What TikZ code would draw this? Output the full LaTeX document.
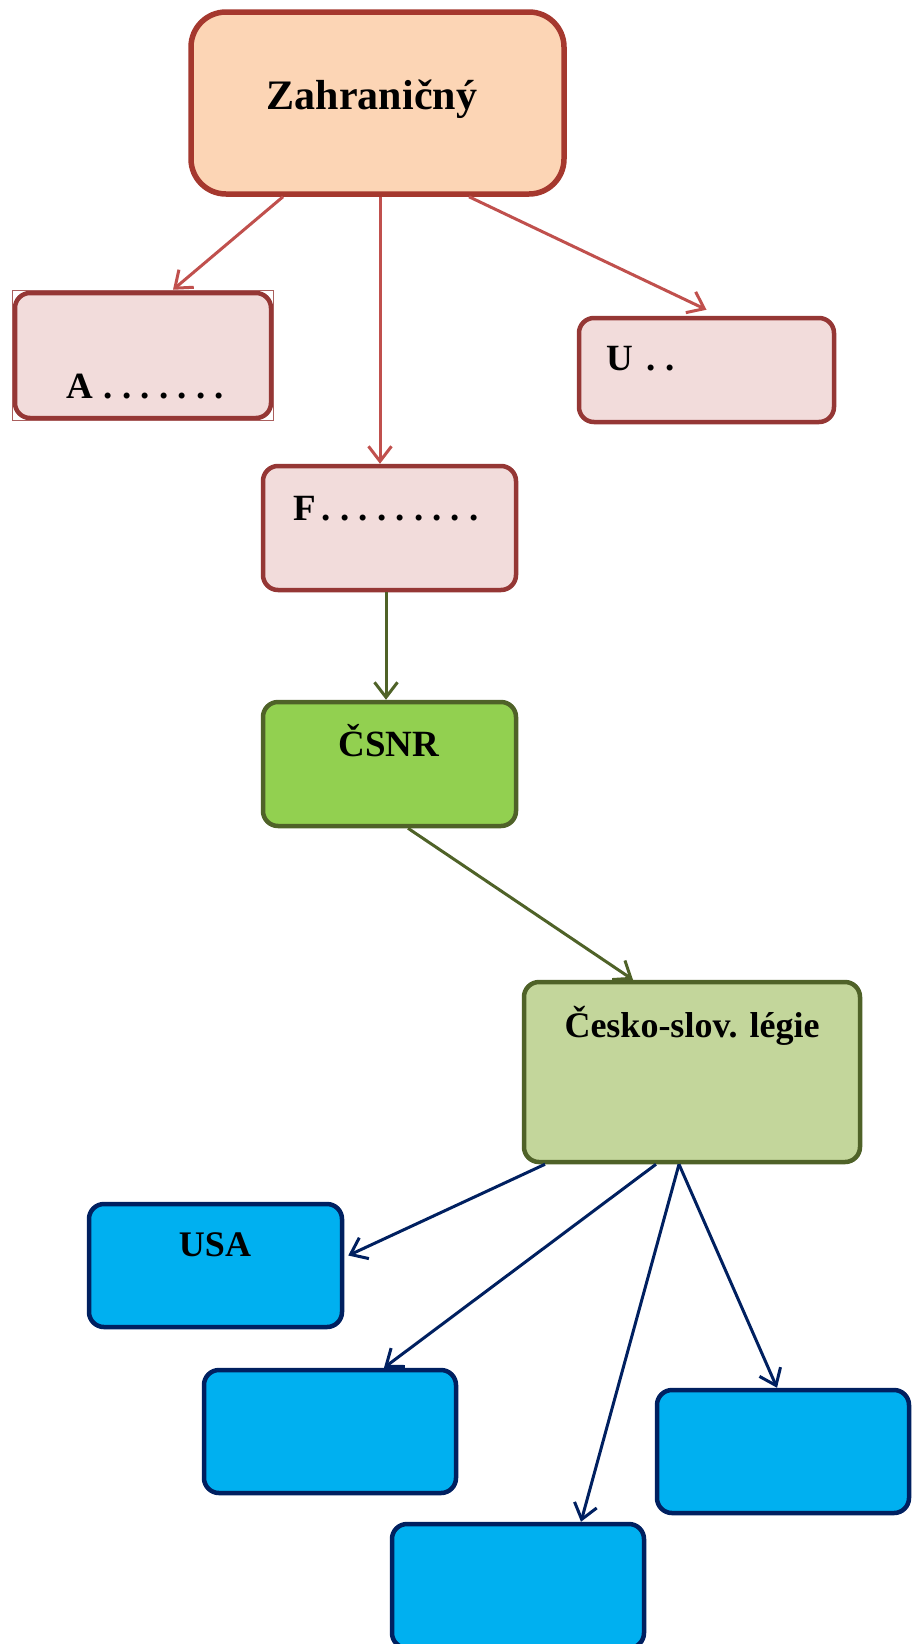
\documentclass[tikz,border=0pt]{standalone}
\usepackage{fontspec}
\setmainfont{Liberation Serif}
\usetikzlibrary{arrows.meta,calc,fit}
\definecolor{peachfill}{HTML}{FCD5B5}
\definecolor{peachline}{HTML}{A5382E}
\definecolor{pinkfill}{HTML}{F2DCDB}
\definecolor{pinkline}{HTML}{953735}
\definecolor{redarrow}{HTML}{C0504D}
\definecolor{greenfill}{HTML}{92D050}
\definecolor{olivefill}{HTML}{C3D69B}
\definecolor{greenline}{HTML}{4F6228}
\definecolor{bluefill}{HTML}{00B0F0}
\definecolor{blueline}{HTML}{002060}
\newcommand{\dd}{\kern9.2pt.}
\tikzset{
  box/.style={rectangle, rounded corners=15pt, line width=4.5pt, inner sep=0pt},
  pinkbox/.style={box, draw=pinkline, fill=pinkfill},
  bluebox/.style={box, draw=blueline, fill=bluefill},
  lbl/.style={font=\bfseries\fontsize{37}{40}\selectfont, inner sep=0pt},
  conn/.style={line width=3pt, -{Straight Barb[length=15pt,width=23pt,line width=3pt]}},
}
\begin{document}
\begin{tikzpicture}[x=1pt,y=-1pt]
\useasboundingbox (0,0) rectangle (915,1644);
% boxes
\node[box, rounded corners=35pt, line width=5.5pt, draw=peachline, fill=peachfill,
      minimum width=373pt, minimum height=182pt] (zah) at (377.5,103) {};
\node[pinkbox, minimum width=256pt, minimum height=125pt] (A) at (143,355.5) {};
\node[fit=(A), inner sep=0.5pt, draw=pinkline!80, line width=1pt] (Aframe) {};
\node[pinkbox, minimum width=255pt, minimum height=104pt] (U) at (706.5,370) {};
\node[pinkbox, minimum width=253pt, minimum height=124pt] (F) at (389.5,528) {};
\node[box, draw=greenline, fill=greenfill, minimum width=253pt, minimum height=124pt] (CSNR) at (389.5,764) {};
\node[box, draw=greenline, fill=olivefill, minimum width=336pt, minimum height=180pt] (leg) at (692,1072) {};
\node[bluebox, minimum width=253pt, minimum height=123pt] (USA) at (215.5,1265.5) {};
\node[bluebox, minimum width=252pt, minimum height=123pt] (M) at (330,1431.5) {};
\node[bluebox, minimum width=252pt, minimum height=123pt] (R) at (783,1451.5) {};
\node[bluebox, minimum width=252pt, minimum height=124pt] (B) at (518,1586) {};
% texts
\node[lbl, font=\bfseries\fontsize{42}{46}\selectfont, anchor=base] (tzah) at (372,109) {Zahraničný};
\node[lbl, anchor=base west] (tA) at (66,398) {A\kern11pt.\dd\dd\dd\dd\dd\dd};
\node[lbl, anchor=base west] (tU) at (606,370) {U\kern14pt.\dd};
\node[lbl, anchor=base west] (tF) at (293,520) {F\kern6pt.\dd\dd\dd\dd\dd\dd\dd\dd};
\node[lbl, anchor=base] (tCSNR) at (389,756) {ČSNR};
\node[lbl, font=\bfseries\fontsize{36}{40}\selectfont, anchor=base] (tleg) at (692,1037) {Česko-slov. légie};
\node[lbl, font=\bfseries\fontsize{36}{40}\selectfont, anchor=base] (tUSA) at (215,1256) {USA};
% connectors
\draw[conn, redarrow] ($(zah.south)+(-94.5,0)$) -- ($(Aframe.north)+(30,0)$);
\draw[conn, redarrow] ($(zah.south)+(2.5,0)$) -- ($(F.north)+(-9.5,0)$);
\draw[conn, redarrow] ($(zah.south)+(91.5,0)$) -- ($(U.north)+(0,-6)$);
\draw[conn, greenline] ($(F.south)+(-3.5,0)$) -- ($(CSNR.north)+(-3.5,0)$);
\draw[conn, greenline] ($(CSNR.south)+(18.5,0)$) -- ($(leg.north)+(-59,0)$);
\draw[conn, blueline] ($(leg.south)+(-147,0)$) -- ($(USA.east)+(4,-10)$);
\draw[conn, blueline] ($(leg.south)+(-36,0)$) -- ($(M.north)+(54,0)$);
\draw[conn, blueline] ($(leg.south)+(-13,0)$) -- ($(B.north)+(63,0)$);
\draw[conn, blueline] ($(leg.south)+(-13,0)$) -- ($(R.north)+(-6,0)$);
\end{tikzpicture}
\end{document}
